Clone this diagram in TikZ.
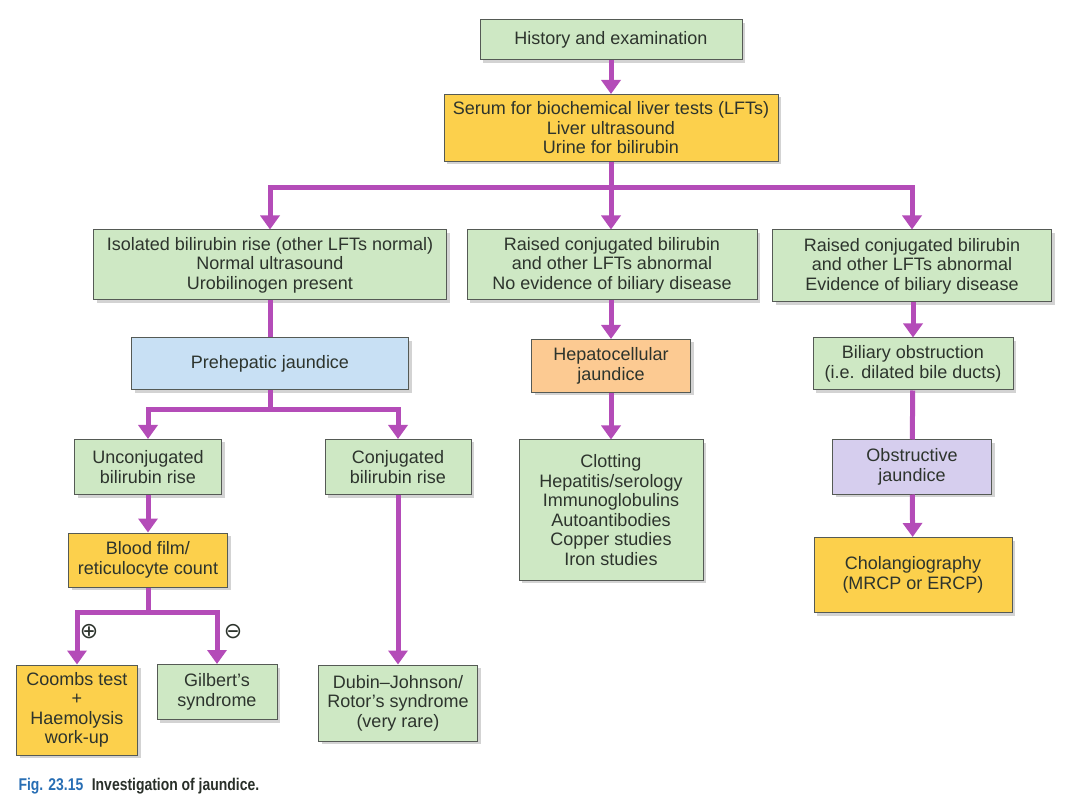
\documentclass[tikz,border=0pt]{standalone}
\usepackage{fontspec}
\setmainfont{Liberation Sans}
\newfontfamily\capfont[FakeStretch=0.82]{Liberation Sans}
\newfontfamily\symfont{DejaVu Sans}
\usepackage{tikz}
\definecolor{boxgreen}{RGB}{206, 232, 196}
\definecolor{boxyellow}{RGB}{252, 208, 76}
\definecolor{boxblue}{RGB}{200, 224, 244}
\definecolor{boxorange}{RGB}{252, 202, 146}
\definecolor{boxpurple}{RGB}{214, 206, 238}
\definecolor{flowpurple}{RGB}{180, 76, 184}
\definecolor{edgegray}{RGB}{85, 90, 85}
\definecolor{textgray}{RGB}{45, 52, 45}
\definecolor{capblue}{RGB}{40, 110, 180}
\usetikzlibrary{positioning}
\usetikzlibrary{shadows}
\usetikzlibrary{arrows.meta}

\tikzset{
  box/.style={rectangle, draw=edgegray, line width=1pt, align=center, text=textgray,
    font=\fontsize{18}{19.5}\selectfont, inner sep=1pt,
    drop shadow={opacity=0.35, shadow xshift=3pt, shadow yshift=-3pt}},
  flow/.style={draw=flowpurple, line width=5pt, -{Triangle[width=19pt,length=14pt]}},
  link/.style={draw=flowpurple, line width=5pt},
}

\begin{document}
\begin{tikzpicture}
\useasboundingbox (0pt, 0pt) rectangle (1080pt, -810pt);
% top of the chart
\node (hist) [box, fill=boxgreen, minimum width=262pt, minimum height=40pt] at (611pt, -40pt) {History and examination};
\node (serum) [box, fill=boxyellow, minimum width=334pt, minimum height=67pt] at (611pt, -128pt) {Serum for biochemical liver tests (LFTs)\\Liver ultrasound\\Urine for bilirubin};
% three branches
\node (iso) [box, fill=boxgreen, minimum width=353pt, minimum height=70pt] at (270pt, -265pt) {Isolated bilirubin rise (other LFTs normal)\\Normal ultrasound\\Urobilinogen present};
\node (mid) [box, fill=boxgreen, minimum width=290pt, minimum height=70pt] at (612pt, -265pt) {Raised conjugated bilirubin\\and other LFTs abnormal\\No evidence of biliary disease};
\node (right) [box, fill=boxgreen, minimum width=279pt, minimum height=72pt] at (912pt, -266pt) {Raised conjugated bilirubin\\and other LFTs abnormal\\Evidence of biliary disease};
\node (pre) [box, fill=boxblue, minimum width=277pt, minimum height=52pt] at (270pt, -364pt) {Prehepatic jaundice};
\node (hep) [box, fill=boxorange, minimum width=159pt, minimum height=53pt] at (611pt, -366pt) {Hepatocellular\\jaundice};
\node (bil) [box, fill=boxgreen, minimum width=200pt, minimum height=52pt] at (913pt, -364pt) {Biliary obstruction\\(i.e. dilated bile ducts)};
\node (uncon) [box, fill=boxgreen, minimum width=147pt, minimum height=55pt] at (148pt, -467pt) {Unconjugated\\bilirubin rise};
\node (con) [box, fill=boxgreen, minimum width=146pt, minimum height=55pt] at (398pt, -467pt) {Conjugated\\bilirubin rise};
\node (clot) [box, fill=boxgreen, minimum width=184pt, minimum height=140pt] at (611pt, -510pt) {Clotting\\Hepatitis/serology\\Immunoglobulins\\Autoantibodies\\Copper studies\\Iron studies};
\node (obs) [box, fill=boxpurple, minimum width=159pt, minimum height=54pt] at (912pt, -467pt) {Obstructive\\jaundice};
\node (blood) [box, fill=boxyellow, minimum width=159pt, minimum height=54pt] at (148pt, -560pt) {Blood film/\\reticulocyte count};
\node (chol) [box, fill=boxyellow, minimum width=198pt, minimum height=75pt] at (913pt, -575pt) {Cholangiography\\(MRCP or ERCP)};
\node (coombs) [box, fill=boxyellow, minimum width=121pt, minimum height=90pt] at (77pt, -710pt) {Coombs test\\+\\Haemolysis\\work-up};
\node (gil) [box, fill=boxgreen, minimum width=120pt, minimum height=55pt] at (217pt, -692pt) {Gilbert's\\syndrome};
\node (dub) [box, fill=boxgreen, minimum width=159pt, minimum height=76pt] at (398pt, -703pt) {Dubin--Johnson/\\Rotor's syndrome\\(very rare)};
% bus points
\coordinate (bus1) at (611pt, -188pt);
\coordinate (bus2) at (270pt, -410pt);
\coordinate (bus3) at (148pt, -612pt);
% connectors
\draw [flow] (hist) -- (serum);
\draw [link] (serum.south) -- (bus1);
\draw [flow] (bus1) -| (iso.north);
\draw [flow] (bus1) -| (right.north);
\draw [flow] (bus1) -- (mid.north -| bus1);
\draw [link] (iso) -- (pre);
\draw [flow] (hep.north |- mid.south) -- (hep);
\draw [flow] (bil.north |- right.south) -- (bil);
\draw [link] (bil) -- (obs);
\draw [flow] (hep) -- (clot);
\draw [flow] (obs) -- (chol);
\draw [link] (pre.south) -- (bus2);
\draw [flow] (bus2) -| (uncon.north);
\draw [flow] (bus2) -| (con.north);
\draw [flow] (uncon) -- (blood);
\draw [flow] (con) -- (dub);
\draw [link] (blood.south) -- (bus3);
\draw [flow] (bus3) -| (coombs.north);
\draw [flow] (bus3) -| (gil.north);
% signs
\node (plus) [text=textgray, font=\symfont\fontsize{22}{22}\selectfont] at (89pt, -632pt) {⊕};
\node (minus) [text=textgray, font=\symfont\fontsize{22}{22}\selectfont] at (233pt, -632pt) {⊖};
% caption
\node (cap) [anchor=west, font=\capfont\bfseries\fontsize{17}{19}\selectfont] at (15pt, -786pt) {\textcolor{capblue}{Fig. 23.15}\enspace\textcolor{textgray!90!black}{Investigation of jaundice.}};
\end{tikzpicture}
\end{document}
